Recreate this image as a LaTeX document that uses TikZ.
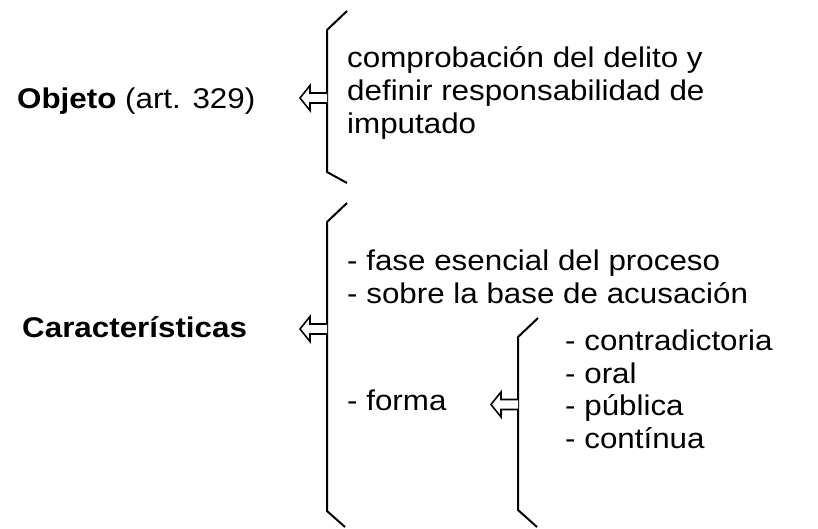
\documentclass[tikz,border=0pt]{standalone}
\usepackage{fontspec}
\setmainfont{Liberation Sans}[FakeStretch=1.1]
\usetikzlibrary{calc}
\tikzstyle{text line}=[font=\fontsize{28.5}{33}\selectfont, anchor=base west, inner sep=0pt]
\tikzstyle{head line}=[text line]
\tikzstyle{brace line}=[draw, line width=2pt, line join=miter]
\tikzset{hollow arrow/.pic={\draw[line width=1.6pt, fill=white] (0,-5) -- (-17,-5) -- (-17,-12.5) -- (-27,0) -- (-17,12.5) -- (-17,5) -- (0,5);}}

\begin{document}
\begin{tikzpicture}[x=1pt, y=-1pt]
	\useasboundingbox (0,0) rectangle (818,528);
	% Headings on the left
	\node[head line] (objeto) at (17,108.5) {\textbf{Objeto} (art. 329)};
	\node[head line, font=\fontsize{28.5}{33}\selectfont\bfseries] (caract) at (22,337) {Características};
	
	% Corner points of the braces
	\foreach \pos/\label in {
		{(347,11)/aTop}, {(327,30)/aUp}, {(327,172)/aDown}, {(347,183)/aBot},
		{(347,203)/bTop}, {(327,222)/bUp}, {(327,511)/bDown}, {(345,527)/bBot},
		{(538,318)/cTop}, {(518,337)/cUp}, {(518,510)/cDown}, {(537,527)/cBot},
		{(327,98)/aMid}, {(327,329)/bMid}, {(518,404.5)/cMid}}
	\node[coordinate] (\label) at \pos {};
	
	\foreach \brace in {a,b,c}
	\path[brace line] (\brace Top) -- (\brace Up) -- (\brace Down) -- (\brace Bot);
	
	% Arrows from the braces
	\foreach \at in {aMid,bMid,cMid}
	\pic at (\at) {hollow arrow};
	
	% Texts inside the braces
	\foreach \pos/\label/\name in {
		{(347,67)/comp/comprobación del delito y},
		{(347,100)/defi/definir responsabilidad de},
		{(347,133)/impu/imputado},
		{(347,270)/fase/- fase esencial del proceso},
		{(347,303)/sobre/- sobre la base de acusación},
		{(347,410)/forma/- forma},
		{(565,350)/contra/- contradictoria},
		{(565,383)/oral/- oral},
		{(565,415)/publica/- pública},
		{(565,448)/continua/- contínua}}
	\node[text line] (\label) at \pos {\name};
\end{tikzpicture}
\end{document}
